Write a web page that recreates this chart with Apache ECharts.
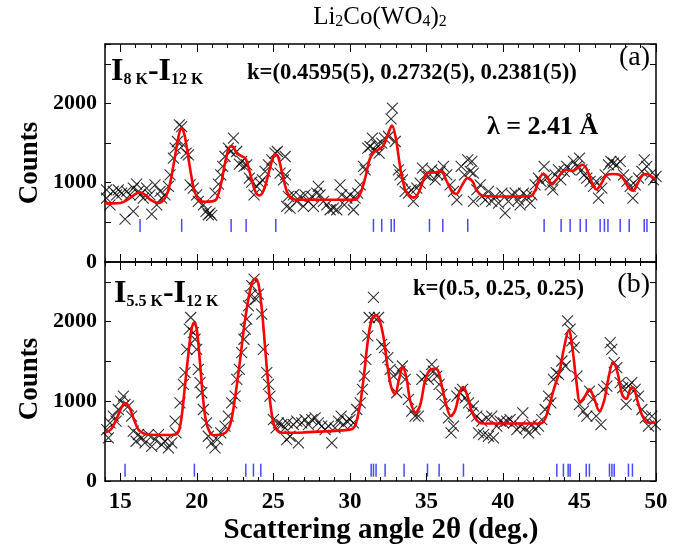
<!DOCTYPE html>
<html>
<head>
<meta charset="utf-8">
<script src="https://cdn.jsdelivr.net/npm/echarts@6/dist/echarts.min.js"></script>
<style>
  html, body { margin: 0; padding: 0; background: #fff; }
  #chart { width: 686px; height: 551px; }
</style>
</head>
<body>
<div id="chart"></div>
<script>
// Axis ticks
const xMajorTicks = [15, 20, 25, 30, 35, 40, 45, 50];
const yLabelTicks = [0, 1000, 2000];

// Panel (a): difference pattern I(8 K) - I(12 K), observed [2θ, counts]
const obsA = [
  [14.1,911],[14.1,806],[14.33,722],[14.54,890],[14.76,848],[14.87,911],[15.09,869],[15.31,541],
  [15.42,890],[15.63,848],[15.85,638],[15.85,932],[16.07,982],[16.18,890],[16.29,848],[16.5,806],
  [16.72,932],[16.94,848],[17.05,604],[17.27,974],[17.38,722],[17.6,890],[17.7,806],[17.92,848],
  [18.14,953],[18.25,1100],[18.47,1310],[18.58,1436],[18.73,1520],[18.86,1730],[19.01,1709],[19.12,1478],
  [19.3,1373],[19.45,1352],[19.56,974],[19.77,932],[19.99,848],[20.1,764],[20.43,722],[20.6,638],
  [20.75,596],[20.86,617],[20.97,588],[21.19,869],[21.41,982],[21.56,1100],[21.69,1205],[21.84,1331],
  [22.06,1436],[22.21,1394],[22.39,1562],[22.6,1394],[22.78,1234],[22.93,1268],[23.08,1205],[23.26,1226],
  [23.43,1058],[23.59,1008],[23.74,848],[23.91,953],[24.13,995],[24.28,1037],[24.46,1142],[24.68,1226],
  [24.9,1289],[25.11,1373],[25.26,1394],[25.44,1121],[25.66,1037],[25.77,1331],[25.8,1100],[25.87,701],
  [25.98,827],[26.09,680],[26.31,848],[26.53,764],[26.75,827],[26.96,701],[27.07,848],[27.29,764],
  [27.51,827],[27.62,701],[27.83,869],[27.94,953],[28.05,848],[28.27,764],[28.49,722],[28.71,659],
  [28.92,680],[29.14,659],[29.36,974],[29.47,848],[29.64,722],[29.8,806],[30.01,848],[30.23,659],
  [30.34,806],[30.51,869],[30.67,974],[30.89,1205],[31.0,1163],[31.17,1436],[31.32,1457],[31.47,1562],
  [31.6,1415],[31.76,1478],[31.91,1373],[32.08,1499],[32.26,1562],[32.52,1583],[32.69,1806],[32.78,1940],
  [32.96,1520],[33.17,1163],[33.28,1100],[33.43,1037],[33.61,890],[33.83,869],[34.0,911],[34.15,764],
  [34.37,932],[34.59,995],[34.74,1184],[34.92,1100],[35.13,1079],[35.35,1163],[35.57,1037],[35.74,1100],
  [35.9,1142],[36.11,1205],[36.33,1100],[36.55,974],[36.77,890],[36.99,785],[37.27,1205],[37.49,1100],
  [37.7,1289],[37.86,1142],[37.97,1268],[38.07,1121],[38.07,764],[38.29,911],[38.51,974],[38.62,827],
  [38.84,785],[39.05,890],[39.27,764],[39.49,827],[39.71,743],[39.93,869],[40.14,617],[40.36,764],
  [40.58,848],[40.8,869],[41.01,785],[41.12,722],[41.34,869],[41.56,827],[41.78,743],[41.89,848],
  [42.1,974],[42.32,1058],[42.48,1016],[42.69,1205],[42.87,1058],[43.09,974],[43.26,911],[43.41,1100],
  [43.63,1163],[43.78,1037],[44.0,1142],[44.17,1205],[44.39,1163],[44.61,1268],[44.83,1205],[45.0,1310],
  [45.15,1163],[45.31,1100],[45.48,1058],[45.7,1016],[45.92,953],[46.09,1016],[46.24,806],[46.46,932],
  [46.68,1100],[46.9,1226],[47.05,1268],[47.22,1247],[47.44,1226],[47.66,1268],[47.88,1100],[48.1,1016],
  [48.31,953],[48.49,806],[48.64,974],[48.86,1058],[49.08,1142],[49.23,1289],[49.4,1205],[49.62,1100],
  [49.84,1037],[50.0,1079]
];

// Panel (a): fitted magnetic profile [2θ, counts]
const fitA = [
  [14.0,740],[14.5,740],[15.0,745],[15.5,790],[16.0,860],[16.3,880],[16.6,850],[17.0,780],[17.5,745],
  [17.9,800],[18.2,950],[18.5,1250],[18.8,1580],[19.0,1690],[19.2,1600],[19.5,1250],[19.8,930],[20.1,790],
  [20.5,760],[21.0,765],[21.3,800],[21.6,1000],[21.9,1300],[22.2,1460],[22.4,1450],[22.6,1370],[22.9,1340],
  [23.2,1300],[23.5,1100],[23.8,900],[24.1,840],[24.4,920],[24.8,1200],[25.1,1360],[25.3,1330],[25.6,1100],
  [25.9,880],[26.2,800],[26.5,785],[27,785],[28,785],[29,785],[30,785],[30.4,790],[30.7,870],[31.0,1060],
  [31.3,1300],[31.6,1390],[31.9,1420],[32.2,1470],[32.5,1620],[32.75,1720],[33.0,1560],[33.3,1180],
  [33.6,920],[33.9,830],[34.2,815],[34.5,880],[34.9,1080],[35.2,1130],[35.6,1130],[35.95,1150],[36.3,1030],
  [36.7,880],[36.95,860],[37.3,960],[37.7,1060],[38.0,1020],[38.3,900],[38.6,840],[39,830],[40,827],
  [41,827],[41.8,830],[42.1,900],[42.4,1060],[42.65,1110],[42.9,1070],[43.2,980],[43.5,1040],[43.9,1140],
  [44.2,1160],[44.6,1150],[44.9,1190],[45.2,1226],[45.5,1160],[45.8,1010],[46.1,915],[46.4,980],[46.8,1100],
  [47.2,1110],[47.6,1100],[47.9,1040],[48.2,940],[48.5,900],[48.8,990],[49.1,1090],[49.4,1110],[49.7,1080],
  [50.0,1040]
];

// Panel (a): magnetic reflection positions (2θ)
const braggA = [16.29, 19.01, 22.24, 23.22, 25.16, 31.54, 32.08, 32.7, 32.9, 35.2, 36.07, 37.7,
  42.69, 43.80, 44.39, 45.05, 45.44, 46.35, 46.63, 46.86, 47.66, 48.25, 49.23, 49.41];

// Panel (b): difference pattern I(5.5 K) - I(12 K), observed [2θ, counts]
const obsB = [
  [14.11,646],[14.22,541],[14.33,730],[14.54,814],[14.72,751],[14.87,898],[15.02,1003],[15.2,1066],
  [15.31,961],[15.53,940],[15.74,814],[15.85,625],[16.03,499],[16.18,583],[16.4,541],[16.61,478],
  [16.83,583],[17.05,436],[17.27,520],[17.49,583],[17.7,457],[17.92,499],[18.14,415],[18.36,478],
  [18.58,751],[18.64,604],[18.9,982],[19.12,1213],[19.23,1360],[19.34,1654],[19.51,1906],[19.6,2053],
  [19.77,1864],[19.88,1780],[19.99,1654],[20.1,1402],[20.21,1234],[20.32,1108],[20.43,898],[20.64,730],
  [20.75,562],[20.97,478],[21.19,415],[21.34,520],[21.56,604],[21.84,688],[22.06,814],[22.28,982],
  [22.5,1066],[22.61,1276],[22.78,1402],[22.93,1612],[23.08,1780],[23.17,1906],[23.26,2032],[23.37,2200],
  [23.48,2326],[23.59,2452],[23.74,2536],[23.87,2284],[24.02,2347],[24.24,2095],[24.35,1654],[24.57,1360],
  [24.68,1213],[24.78,1066],[25.0,772],[25.18,667],[25.33,730],[25.55,709],[25.76,667],[25.87,520],
  [25.9,730],[26.09,562],[26.31,709],[26.53,751],[26.64,478],[26.85,730],[27.07,772],[27.29,709],
  [27.51,772],[27.73,793],[27.94,730],[28.16,688],[28.38,646],[28.6,688],[28.82,478],[29.03,667],
  [29.25,751],[29.43,814],[29.58,709],[29.8,751],[30.01,772],[30.23,730],[30.45,898],[30.67,982],
  [30.82,1150],[30.95,1318],[31.04,1528],[31.17,1822],[31.26,2053],[31.54,2305],[31.6,2053],[31.87,2053],
  [32.08,1717],[32.26,1675],[32.48,1549],[32.63,1402],[32.85,1318],[33.06,1108],[33.28,1381],[33.43,1444],
  [33.61,1276],[33.83,1024],[34.04,877],[34.26,814],[34.48,814],[34.7,1276],[34.92,1318],[35.13,1276],
  [35.35,1465],[35.46,1381],[35.68,1318],[35.83,1213],[36.01,1087],[36.22,961],[36.44,793],[36.61,604],
  [36.77,688],[36.99,1066],[37.2,1108],[37.36,1150],[37.53,1045],[37.75,982],[37.97,856],[38.07,940],
  [38.29,814],[38.4,604],[38.62,751],[38.73,583],[38.94,793],[39.05,562],[39.27,814],[39.38,541],
  [39.6,688],[39.82,751],[40.03,730],[40.25,751],[40.47,772],[40.69,730],[40.91,646],[41.12,688],
  [41.3,856],[41.45,667],[41.67,604],[41.89,709],[42.1,646],[42.32,688],[42.54,772],[42.76,898],
  [42.98,1066],[43.13,982],[43.3,1276],[43.48,1360],[43.63,1339],[43.85,1507],[44.07,1444],[44.22,2011],
  [44.39,1906],[44.5,1759],[44.65,1675],[44.83,1318],[45.0,961],[45.26,877],[45.48,814],[45.66,1129],
  [45.87,1024],[46.09,814],[46.4,709],[46.57,1150],[46.79,1192],[47.01,1738],[47.11,1654],[47.27,1486],
  [47.44,1423],[47.66,1234],[47.83,1171],[48.05,961],[48.2,1192],[48.42,1234],[48.64,1150],[48.86,1066],
  [49.08,898],[49.3,793],[49.51,688],[49.73,814],[49.95,709]
];

// Panel (b): fitted magnetic profile [2θ, counts]
const fitB = [
  [14.0,610],[14.4,650],[14.8,800],[15.1,930],[15.35,975],[15.6,920],[15.9,770],[16.2,640],[16.6,590],
  [17,580],[18,577],[18.5,580],[18.8,620],[19.0,800],[19.2,1150],[19.45,1600],[19.65,1900],[19.82,1990],
  [20.0,1900],[20.2,1500],[20.4,1050],[20.6,750],[20.85,610],[21.1,575],[21.5,580],[21.9,610],[22.2,720],
  [22.5,1050],[22.8,1480],[23.1,1950],[23.4,2320],[23.65,2510],[23.85,2540],[24.05,2450],[24.25,2150],
  [24.45,1700],[24.65,1250],[24.85,900],[25.05,700],[25.3,625],[25.6,605],[26,605],[27,610],[28,620],
  [29,630],[30,645],[30.3,680],[30.5,800],[30.7,1000],[30.95,1380],[31.2,1800],[31.45,2040],[31.7,2080],
  [31.95,2010],[32.2,1800],[32.45,1450],[32.7,1180],[32.95,1090],[33.2,1270],[33.45,1430],[33.7,1290],
  [33.95,1000],[34.3,860],[34.6,960],[34.9,1250],[35.2,1390],[35.5,1410],[35.75,1390],[36.0,1200],
  [36.3,950],[36.6,815],[36.9,900],[37.15,1100],[37.4,1180],[37.65,1090],[37.95,880],[38.3,760],
  [38.6,725],[39,722],[40,722],[41,722],[42,722],[42.5,725],[42.8,800],[43.1,1000],[43.4,1200],
  [43.7,1380],[44.0,1680],[44.3,1895],[44.55,1650],[44.8,1250],[45.05,990],[45.35,1060],[45.65,1150],
  [45.95,1040],[46.3,880],[46.6,1000],[46.9,1300],[47.2,1494],[47.5,1350],[47.8,1080],[48.05,1030],
  [48.35,1165],[48.5,1172],[48.8,1000],[49.1,820],[49.4,740],[49.7,730],[50.0,735]
];

// Panel (b): magnetic reflection positions (2θ)
const braggB = [15.31, 19.84, 23.20, 23.70, 24.18, 31.39, 31.54, 31.71, 32.30, 33.54, 35.07, 35.83,
  37.42, 43.52, 43.95, 44.26, 44.39, 45.44, 45.65, 46.96, 47.12, 47.27, 48.20, 48.46];

const FONT = '"Liberation Serif", "Times New Roman", serif';
const Y_MAX = 2750;
const BRAGG_LEVEL = [462, 136]; // vertical placement of the reflection markers in each panel

const chart = echarts.init(document.getElementById('chart'), null, { renderer: 'canvas' });

const grids = [
  { left: 105, top: 44, width: 551, height: 218 },
  { left: 105, top: 262, width: 551, height: 219 }
];

const xAxes = [];
const yAxes = [];
grids.forEach((g, i) => {
  const showLabels = i === 1;
  ['bottom', 'top'].forEach(pos => {
    // minor ticks every degree + frame line
    xAxes.push({
      gridIndex: i, type: 'value', position: pos, min: 14, max: 50, interval: 1,
      axisLine: { show: true, onZero: false, lineStyle: { color: '#000', width: 1.5 } },
      axisTick: { show: true, inside: true, length: 4, lineStyle: { color: '#000', width: 1 } },
      axisLabel: { show: false }, splitLine: { show: false }
    });
    // major ticks every 5 degrees
    xAxes.push({
      gridIndex: i, type: 'value', position: pos, min: 14, max: 50,
      axisLine: { show: false, onZero: false },
      axisTick: { show: true, inside: true, length: 8, customValues: xMajorTicks, lineStyle: { color: '#000', width: 1 } },
      axisLabel: {
        show: showLabels && pos === 'bottom', customValues: xMajorTicks, margin: 10,
        color: '#000', fontFamily: FONT, fontWeight: 'bold', fontSize: 23
      },
      splitLine: { show: false }
    });
  });
  ['left', 'right'].forEach(pos => {
    yAxes.push({
      gridIndex: i, type: 'value', position: pos, min: 0, max: Y_MAX, interval: 500,
      axisLine: { show: true, onZero: false, lineStyle: { color: '#000', width: 1.5 } },
      axisTick: { show: true, inside: true, length: 6, lineStyle: { color: '#000', width: 1 } },
      axisLabel: {
        show: pos === 'left', margin: 8, color: '#000', fontFamily: FONT, fontWeight: 'bold', fontSize: 22,
        formatter: v => (yLabelTicks.indexOf(v) >= 0 ? String(v) : '')
      },
      splitLine: { show: false }
    });
  });
});

const CROSS = 'path://M0,0L10,10M10,0L0,10';

function panelSeries(i, obs, fit, bragg) {
  const xi = i * 4, yi = i * 2;
  return [
    {
      type: 'scatter', xAxisIndex: xi, yAxisIndex: yi, data: obs, symbol: CROSS, symbolSize: 11,
      itemStyle: { color: 'rgba(0,0,0,0)', borderColor: '#000', borderWidth: 1.1 }, silent: true, z: 2
    },
    {
      type: 'line', xAxisIndex: xi, yAxisIndex: yi, data: fit, smooth: 0.35, showSymbol: false,
      lineStyle: { color: '#ff0000', width: 2.6 }, silent: true, z: 3
    },
    {
      type: 'scatter', xAxisIndex: xi, yAxisIndex: yi,
      data: bragg.map(a => [a, BRAGG_LEVEL[i]]), symbol: 'rect', symbolSize: [1.5, 13],
      itemStyle: { color: '#1a1aff' }, silent: true, z: 2
    }
  ];
}

const sub = (size, lh) => ({ fontFamily: FONT, fontWeight: 'bold', fontSize: size, verticalAlign: 'bottom', lineHeight: lh });

const graphics = [
  { type: 'text', x: 380, y: 17, style: {
      text: 'Li{s|2}Co(WO{s|4}){s|2}', align: 'center', verticalAlign: 'middle',
      fontFamily: FONT, fontSize: 25, fill: '#000',
      rich: { s: { fontFamily: FONT, fontSize: 16, verticalAlign: 'bottom', lineHeight: 10 } } } },
  { type: 'text', x: 111, y: 72, style: {
      text: '{m|I}{s|8 K}{m|-I}{s|12 K}', verticalAlign: 'middle', fill: '#000',
      rich: { m: sub(32, 32), s: sub(16, 14) } } },
  { type: 'text', x: 247, y: 73, style: {
      text: 'k=(0.4595(5), 0.2732(5), 0.2381(5))', verticalAlign: 'middle',
      fontFamily: FONT, fontWeight: 'bold', fontSize: 22.7, fill: '#000' } },
  { type: 'text', x: 650, y: 58, style: {
      text: '(a)', align: 'right', verticalAlign: 'middle', fontFamily: FONT, fontSize: 28, fill: '#000' } },
  { type: 'text', x: 487, y: 127, style: {
      text: 'λ = 2.41 Å', verticalAlign: 'middle', fontFamily: FONT, fontWeight: 'bold', fontSize: 26, fill: '#000' } },
  { type: 'text', x: 114, y: 294, style: {
      text: '{m|I}{s|5.5 K}{m|-I}{s|12 K}', verticalAlign: 'middle', fill: '#000',
      rich: { m: sub(32, 32), s: sub(16, 14) } } },
  { type: 'text', x: 413, y: 289, style: {
      text: 'k=(0.5, 0.25, 0.25)', verticalAlign: 'middle',
      fontFamily: FONT, fontWeight: 'bold', fontSize: 22.7, fill: '#000' } },
  { type: 'text', x: 650, y: 285, style: {
      text: '(b)', align: 'right', verticalAlign: 'middle', fontFamily: FONT, fontSize: 28, fill: '#000' } },
  { type: 'text', x: 30, y: 163, rotation: Math.PI / 2, style: {
      text: 'Counts', align: 'center', verticalAlign: 'middle', fontFamily: FONT, fontWeight: 'bold', fontSize: 27, fill: '#000' } },
  { type: 'text', x: 30, y: 379, rotation: Math.PI / 2, style: {
      text: 'Counts', align: 'center', verticalAlign: 'middle', fontFamily: FONT, fontWeight: 'bold', fontSize: 27, fill: '#000' } },
  { type: 'text', x: 381, y: 531, style: {
      text: 'Scattering angle 2θ (deg.)', align: 'center', verticalAlign: 'middle',
      fontFamily: FONT, fontWeight: 'bold', fontSize: 29, fill: '#000' } }
];

chart.setOption({
  backgroundColor: '#fff',
  animation: false,
  grid: grids,
  xAxis: xAxes,
  yAxis: yAxes,
  series: [].concat(panelSeries(0, obsA, fitA, braggA), panelSeries(1, obsB, fitB, braggB)),
  graphic: graphics
});
</script>
</body>
</html>
